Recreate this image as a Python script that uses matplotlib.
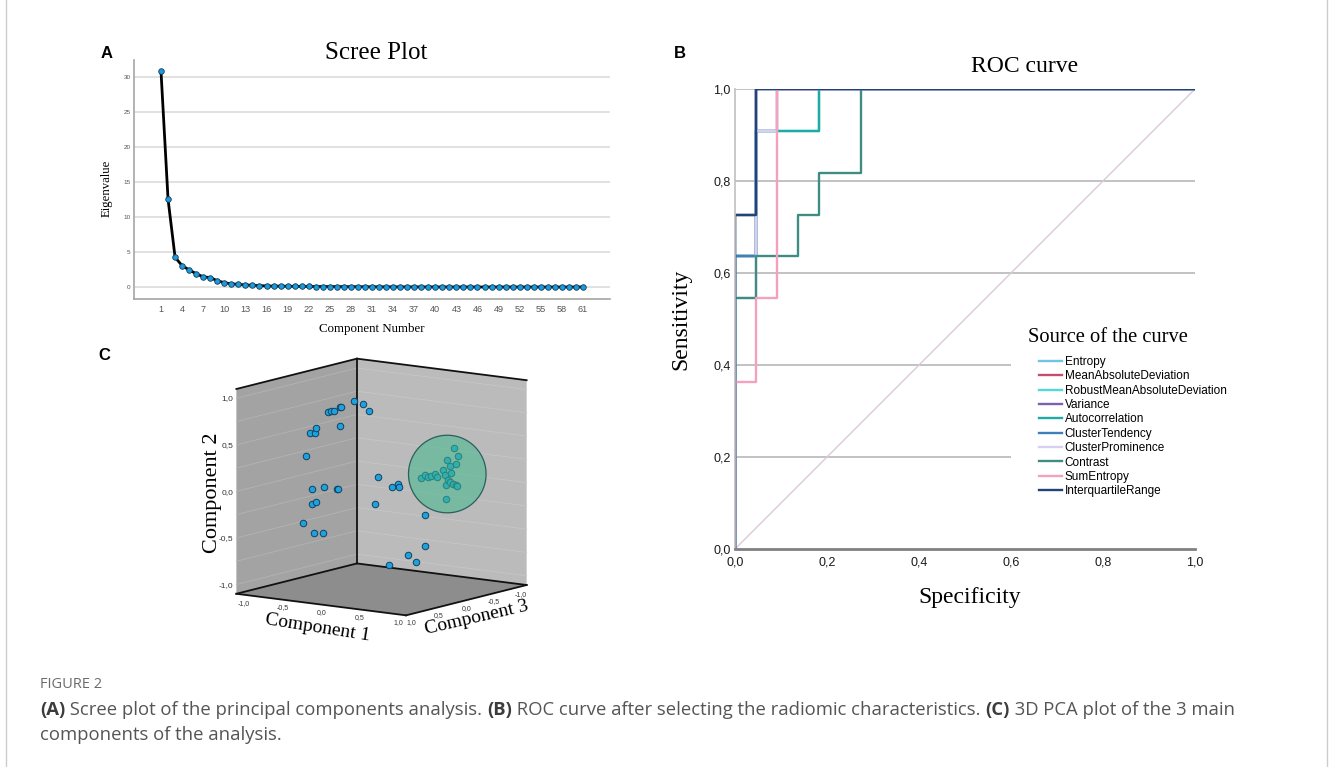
import numpy as np
import matplotlib
matplotlib.use("Agg")
import matplotlib.pyplot as plt
from matplotlib.lines import Line2D
from mpl_toolkits.mplot3d.art3d import Poly3DCollection

SERIF = "Liberation Serif"
SANS = "Liberation Sans"
W, H = 1330, 767

# ---------------- A: scree plot data
component = list(range(1, 62))
eigenvalue = [30.8, 12.55, 4.25, 3.05, 2.45, 1.9, 1.45, 1.35, 0.9, 0.62,
              0.45, 0.38, 0.3, 0.25, 0.2, 0.15, 0.13, 0.12, 0.11, 0.1,
              0.09, 0.08, 0.07, 0.065, 0.06, 0.055, 0.05, 0.045, 0.04, 0.035,
              0.03, 0.028, 0.025, 0.022, 0.02, 0.018, 0.016, 0.014, 0.012, 0.011,
              0.01, 0.009, 0.008, 0.007, 0.006, 0.005, 0.005, 0.004, 0.004, 0.003,
              0.003, 0.002, 0.002, 0.002, 0.001, 0.001, 0.001, 0.001, 0.0005, 0.0003,
              0.0001]

# ---------------- B: ROC curves (x = 1 - specificity, labelled "Specificity" as in source)
roc_names = ["Entropy", "MeanAbsoluteDeviation", "RobustMeanAbsoluteDeviation",
             "Variance", "Autocorrelation", "ClusterTendency", "ClusterProminence",
             "Contrast", "SumEntropy", "InterquartileRange"]
roc_x = [
    [0, 0, 0.045, 0.045, 1],
    [0, 0, 0.045, 0.045, 1],
    [0, 0, 0.045, 0.045, 0.182, 0.182, 1],
    [0, 0, 0.045, 0.045, 0.091, 0.091, 1],
    [0, 0, 0.045, 0.045, 0.182, 0.182, 1],
    [0, 0, 0.045, 0.045, 1],
    [0, 0, 0.045, 0.045, 0.091, 0.091, 1],
    [0, 0, 0.045, 0.045, 0.136, 0.136, 0.182, 0.182, 0.273, 0.273, 1],
    [0, 0, 0.045, 0.045, 0.091, 0.091, 1],
    [0, 0, 0.045, 0.045, 1],
]
roc_y = [
    [0, 0.636, 0.636, 1, 1],
    [0, 0.727, 0.727, 1, 1],
    [0, 0.727, 0.727, 0.909, 0.909, 1, 1],
    [0, 0.636, 0.636, 0.909, 0.909, 1, 1],
    [0, 0.636, 0.636, 0.909, 0.909, 1, 1],
    [0, 0.636, 0.636, 1, 1],
    [0, 0.545, 0.545, 0.909, 0.909, 1, 1],
    [0, 0.545, 0.545, 0.636, 0.636, 0.727, 0.727, 0.818, 0.818, 1, 1],
    [0, 0.364, 0.364, 0.545, 0.545, 1, 1],
    [0, 0.727, 0.727, 1, 1],
]
roc_colors = ["#72c4e6", "#c2506c", "#55d8d6", "#7d60ae", "#20aaa6",
              "#3f80b6", "#d9cff0", "#3e8c84", "#f5a1be", "#24427a"]
roc_ticks = [0.0, 0.2, 0.4, 0.6, 0.8, 1.0]
roc_ticklabels = ["0,0", "0,2", "0,4", "0,6", "0,8", "1,0"]

# ---------------- C: 3D PCA loadings
comp1 = [0.00, 0.12, 0.19, -0.18, -0.17, -0.26, -0.30, -0.34, -0.18, -0.50, -0.51,
         -0.57, -0.63, -0.54, -0.39, -0.22, -0.21, -0.49, -0.54, -0.66, -0.52, -0.40,
         -0.05, 0.13, 0.21, 0.23, -0.09, 0.57, 0.56, 0.35, 0.45, 0.10,
         0.52, 0.57, 0.42, 0.46, 0.54, 0.37, 0.08, 0.14, 0.18, 0.22, 0.27, 0.29,
         0.40, 0.47, 0.44, 0.41, 0.46, 0.50, 0.54, 0.55, 0.41]
comp2 = [1.00, 0.98, 0.91, 0.91, 0.92, 0.86, 0.86, 0.84, 0.71, 0.66, 0.60,
         0.59, 0.34, 0.00, 0.03, 0.03, 0.03, -0.14, -0.17, -0.38, -0.48, -0.46,
         0.10, 0.01, 0.05, 0.02, -0.19, -0.24, -0.57, -0.69, -0.76, -0.83,
         0.39, 0.30, 0.24, 0.19, 0.21, 0.13, 0.02, 0.06, 0.04, 0.05, 0.08, 0.05,
         0.08, 0.11, 0.03, -0.02, 0.01, 0.00, -0.01, -0.02, -0.18]
comp3 = [0.5, 0.5, 0.5, 0.5, 0.5, 0.5, 0.5, 0.5, 0.5, 0.5, 0.5,
         0.5, 0.5, 0.5, 0.5, 0.5, 0.5, 0.5, 0.5, 0.5, 0.5, 0.5,
         0.0, 0.0, 0.0, 0.0, 0.0, 0.0, 0.0, 0.0, 0.0, 0.0,
         -0.6, -0.6, -0.6, -0.6, -0.6, -0.6, -0.6, -0.6, -0.6, -0.6, -0.6, -0.6,
         -0.6, -0.6, -0.6, -0.6, -0.6, -0.6, -0.6, -0.6, -0.6]
cluster_center = [0.42, 0.10, -0.6]   # comp1, comp2, comp3
cluster_radius = 0.41
pca_ticks = [-1.0, -0.5, 0.0, 0.5, 1.0]
pca_ticklabels = ["-1,0", "-0,5", "0,0", "0,5", "1,0"]


def fx(px):
    return px / W


def fy(py):
    return 1 - py / H


fig = plt.figure(figsize=(W / 100, H / 100), dpi=100)

# ================= A
axA = fig.add_axes([fx(134), fy(299), 476 / W, 239 / H])
axA.plot(component, eigenvalue, color="black", lw=2, marker="o", ms=4.0,
         mfc="#1e9ad8", mec="#0e3c5e", mew=0.6, zorder=3)
axA.set_xlim(-2.84, 64.84)
axA.set_ylim(-1.71, 32.43)
axA.set_yticks(range(0, 31, 5))
axA.set_xticks(range(1, 62, 3))
axA.grid(axis="y", color="#dcdcdc", lw=1.2)
axA.set_axisbelow(True)
for s in ["top", "right"]:
    axA.spines[s].set_visible(False)
for s in ["left", "bottom"]:
    axA.spines[s].set_color("#a5a5a5")
    axA.spines[s].set_linewidth(1.2)
axA.tick_params(axis="y", length=0, labelsize=4.6, labelcolor="#555555", pad=2.4)
axA.tick_params(axis="x", length=0, labelsize=6.6, labelcolor="#555555", pad=4)
for t in axA.get_xticklabels() + axA.get_yticklabels():
    t.set_family(SANS)
fig.text(fx(376), fy(53), "Scree Plot", ha="center", va="center", family=SERIF, size=18)
fig.text(fx(107), fy(188), "Eigenvalue", ha="center", va="center", rotation=90,
         family=SERIF, size=9.2)
fig.text(fx(372), fy(329), "Component Number", ha="center", va="center",
         family=SERIF, size=9.3)

# ================= B
axB = fig.add_axes([fx(735), fy(549), 460 / W, 460 / H])
axB.set_xlim(0, 1)
axB.set_ylim(0, 1)
axB.hlines([0.6, 0.8, 1.0], 0, 1, color="#b8b8b8", lw=1.2, zorder=0)
axB.hlines([0.2, 0.4], 0, 0.6, color="#b8b8b8", lw=1.2, zorder=0)
axB.plot([0, 1], [0, 1], color="#dcc8d8", lw=1, zorder=1)
for xs, ys, c, n in zip(roc_x, roc_y, roc_colors, roc_names):
    axB.plot(xs, ys, color=c, lw=1.7, label=n, zorder=2)
for s in ["top", "right"]:
    axB.spines[s].set_visible(False)
axB.spines["bottom"].set_color("#808080")
axB.spines["bottom"].set_linewidth(2)
axB.spines["left"].set_color("#c0c0c0")
axB.spines["left"].set_linewidth(1.2)
axB.set_xticks(roc_ticks, roc_ticklabels)
axB.set_yticks(roc_ticks, roc_ticklabels)
axB.tick_params(length=0, labelsize=9, labelcolor="#1a1a1a")
axB.tick_params(axis="x", pad=5.2)
axB.tick_params(axis="y", pad=3.3)
for t in axB.get_xticklabels() + axB.get_yticklabels():
    t.set_family(SANS)
leg = axB.legend(loc="upper left", bbox_to_anchor=(fx(1039), fy(356)),
                 bbox_transform=fig.transFigure, frameon=False,
                 prop={"family": SANS, "size": 8.5}, handlelength=1.95,
                 handletextpad=0.22, labelspacing=0.2, borderpad=0, borderaxespad=0)
fig.text(fx(1108), fy(338), "Source of the curve", ha="center", va="center",
         family=SERIF, size=14.8)
fig.text(fx(1025), fy(67), "ROC curve", ha="center", va="center", family=SERIF, size=17)
fig.text(fx(681), fy(319), "Sensitivity", ha="center", va="center", rotation=90,
         family=SERIF, size=17)
fig.text(fx(970), fy(597), "Specificity", ha="center", va="center", family=SERIF, size=17)

# ================= C
elev, azim = 10.3, -54.6
side = 350
axC = fig.add_axes([fx(381.5 - 0.5135 * side), fy(487 + 0.5135 * side), side / W, side / H],
                   projection="3d", proj_type="ortho")
axC.view_init(elev=elev, azim=azim)
axC.set_box_aspect((1, 1, 1), zoom=1.0)
lim = 1.1
axC.set_xlim(-lim, lim)
axC.set_ylim(lim, -lim)
axC.set_zlim(-lim, lim)
axC.set_axis_off()
axC.computed_zorder = False

L = lim
left_wall = [(-L, L, -L), (-L, -L, -L), (-L, -L, L), (-L, L, L)]
right_wall = [(-L, -L, -L), (L, -L, -L), (L, -L, L), (-L, -L, L)]
floor = [(-L, L, -L), (L, L, -L), (L, -L, -L), (-L, -L, -L)]
for poly, col in [(floor, "#8d8d8d"), (left_wall, "#a3a3a3"), (right_wall, "#bbbbbb")]:
    pc = Poly3DCollection([poly], facecolor=col, edgecolor="none", zorder=0)
    axC.add_collection3d(pc)
for g in np.arange(-1.0, 1.01, 0.25):
    axC.plot([-L, -L], [L, -L], [g, g], color="#b3b3b3", lw=0.6, zorder=1)
    axC.plot([-L, L], [-L, -L], [g, g], color="#c6c6c6", lw=0.6, zorder=1)
edges = [
    ([-L, -L], [L, -L], [L, L]),
    ([-L, L], [-L, -L], [L, L]),
    ([-L, -L], [-L, -L], [-L, L]),
    ([-L, -L], [L, -L], [-L, -L]),
    ([-L, L], [-L, -L], [-L, -L]),
    ([-L, L], [L, L], [-L, -L]),
    ([L, L], [L, -L], [-L, -L]),
]
for ex, ey, ez in edges:
    axC.plot(ex, ey, ez, color="#111111", lw=1.3, zorder=2)

axC.scatter(comp1, comp3, comp2, s=22, c="#1ea2dd", edgecolors="#13405f",
            linewidths=0.7, depthshade=False, zorder=3)

a, e = np.radians(azim), np.radians(elev)
u = np.array([-np.sin(a), np.cos(a), 0.0])
v = np.array([-np.sin(e) * np.cos(a), -np.sin(e) * np.sin(a), np.cos(e)])
t = np.linspace(0, 2 * np.pi, 120)
dx = cluster_radius * (np.cos(t) * u[0] + np.sin(t) * v[0])
dy = -cluster_radius * (np.cos(t) * u[1] + np.sin(t) * v[1])
dz = cluster_radius * (np.cos(t) * u[2] + np.sin(t) * v[2])
disc = list(zip(cluster_center[0] + dx, cluster_center[2] + dy, cluster_center[1] + dz))
axC.add_collection3d(Poly3DCollection([disc], facecolor=(0.25, 0.72, 0.55, 0.55),
                                      edgecolor="#2b5f5c", linewidth=0.9, zorder=4))

for val, lab in zip(pca_ticks, pca_ticklabels):
    axC.text(-L, L + 0.05, val, lab, ha="right", va="center", size=6,
             color="#333333", family=SANS, zorder=5)
    axC.text(val, L, -1.19, lab, ha="center", va="center", size=5, rotation=-7,
             color="#333333", family=SANS, zorder=5)
    axC.text(L, val, -1.19, lab, ha="center", va="center", size=5, rotation=14,
             color="#333333", family=SANS, zorder=5)

fig.text(fx(212), fy(493), "Component 2", ha="center", va="center", rotation=90,
         family=SERIF, size=16)
fig.text(fx(318), fy(628), "Component 1", ha="center", va="center", rotation=-9,
         family=SERIF, size=14)
fig.text(fx(477), fy(618), "Component 3", ha="center", va="center", rotation=13,
         family=SERIF, size=14)

# ================= panel letters
for lab, px, py in [("A", 107, 53), ("B", 680, 53), ("C", 104, 355)]:
    fig.text(fx(px), fy(py), lab, ha="center", va="center", family=SANS,
             weight="bold", size=12)

# ================= caption
cap = fig.add_axes([0, 0, 1, 1], zorder=-1)
cap.axis("off")
cap.set_xlim(0, 1)
cap.set_ylim(0, 1)
cap.text(fx(40), fy(685), "FIGURE 2", ha="left", va="center", family="Open Sans",
         size=10.5, color="#6b6b6b")
segs = [("(A)", "bold"), (" Scree plot of the principal components analysis. ", "normal"),
        ("(B)", "bold"), (" ROC curve after selecting the radiomic characteristics. ", "normal"),
        ("(C)", "bold"), (" 3D PCA plot of the 3 main", "normal")]
prev = None
for s, wgt in segs:
    col = "#3c3c3c" if wgt == "bold" else "#555555"
    if prev is None:
        prev = cap.text(fx(40), fy(710), s, ha="left", va="center", family="Open Sans",
                        size=13.3, weight=wgt, color=col)
    else:
        prev = cap.annotate(s, xy=(1, 0.5), xycoords=prev, ha="left", va="center",
                            family="Open Sans", size=13.3, weight=wgt, color=col)
cap.text(fx(40), fy(735), "components of the analysis.", ha="left", va="center",
         family="Open Sans", size=13.3, color="#555555")

for bx in [6, 1327]:
    fig.add_artist(Line2D([fx(bx), fx(bx)], [0, 1], transform=fig.transFigure,
                          color="#cccccc", lw=1))

fig.savefig("out.png", dpi=100)
